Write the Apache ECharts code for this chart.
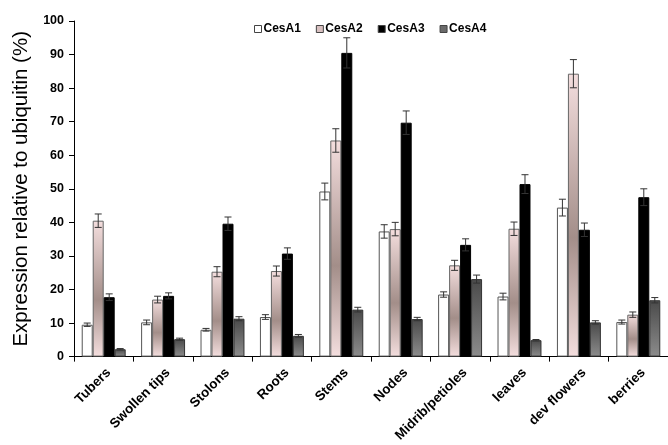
<!DOCTYPE html>
<html><head><meta charset="utf-8">
<script src="https://cdn.jsdelivr.net/npm/echarts@6/dist/echarts.min.js"></script>
<style>html,body{margin:0;padding:0;background:#fff}#c{width:668px;height:445px}</style>
</head><body><div id="c"></div>
<script>
const categories = ['Tubers','Swollen tips','Stolons','Roots','Stems','Nodes','Midrib/petioles','leaves','dev flowers','berries'];
const seriesNames = ['CesA1','CesA2','CesA3','CesA4'];
const cesA1 = [9.5, 10.2, 8, 11.8, 49.2, 37.3, 18.5, 17.9, 44.4, 10.3];
const cesA2 = [40.5, 17, 25.3, 25.5, 64.4, 38, 27.2, 38.1, 84.3, 12.5];
const cesA3 = [17.7, 18.1, 39.6, 30.7, 90.5, 69.7, 33.3, 51.4, 37.8, 47.5];
const cesA4 = [2.2, 5.2, 11.3, 6.2, 14, 11.2, 23.1, 4.9, 10.2, 16.8];
const errA1 = [0.5, 0.7, 0.4, 0.7, 2.5, 2, 0.8, 1, 2.5, 0.6];
const errA2 = [2, 1, 1.5, 1.5, 3.5, 2, 1.5, 2, 4.2, 0.8];
const errA3 = [1, 0.9, 2, 1.7, 4.5, 3.5, 1.8, 2.8, 2, 2.5];
const errA4 = [0.2, 0.3, 0.6, 0.4, 0.7, 0.5, 1.2, 0.2, 0.5, 0.8];
const yTicks = [0,10,20,30,40,50,60,70,80,90,100];

const values = [cesA1, cesA2, cesA3, cesA4];
const errors = [errA1, errA2, errA3, errA4];
const catGap = 0.26;

const styles = [
  {color:'#ffffff', borderColor:'#555', borderWidth:1},
  {color:{type:'linear',x:0,y:0,x2:0,y2:1,colorStops:[{offset:0,color:'#f4dede'},{offset:0.58,color:'#a38e89'},{offset:1,color:'#f4dede'}]}, borderColor:'#666', borderWidth:1},
  {color:'#000000', borderColor:'#000', borderWidth:1},
  {color:{type:'linear',x:0,y:0,x2:0,y2:1,colorStops:[{offset:0,color:'#4a4a4a'},{offset:1,color:'#8c8c8c'}]}, borderColor:'#333', borderWidth:1}
];
const legendColors = ['#ffffff','#d8c0c0','#000000','#6a6a6a'];

const series = [];
values.forEach((v,i)=>{
  series.push({name:seriesNames[i], type:'bar', data:v, barGap:'0%', barCategoryGap:(catGap*100)+'%', itemStyle:styles[i]});
});
values.forEach((v,i)=>{
  series.push({
    type:'custom', name:seriesNames[i]+'_err', silent:true, z:10,
    data: v.map((val,j)=>[j, val, errors[i][j]]),
    encode:{x:0,y:1},
    renderItem:(params, api)=>{
      const x = api.value(0), val = api.value(1), e = api.value(2);
      const catW = api.size([1,0])[0];
      const bw = catW*(1-catGap)/4;
      const off = (i-1.5)*bw;
      const top = api.coord([x, val+e]);
      const bot = api.coord([x, val-e]);
      const cx = top[0]+off;
      const cap = 3.5;
      const st = {stroke:'#333', lineWidth:1};
      return {type:'group', children:[
        {type:'line', shape:{x1:cx,y1:top[1],x2:cx,y2:bot[1]}, style:st},
        {type:'line', shape:{x1:cx-cap,y1:top[1],x2:cx+cap,y2:top[1]}, style:st},
        {type:'line', shape:{x1:cx-cap,y1:bot[1],x2:cx+cap,y2:bot[1]}, style:st}
      ]};
    }
  });
});

const chart = echarts.init(document.getElementById('c'));
chart.setOption({
  animation:false,
  backgroundColor:'#fff',
  legend:{
    data: seriesNames.map((n,i)=>({name:n, itemStyle:{color:legendColors[i], borderColor:'#444', borderWidth:1}})),
    top:18, left:249, itemWidth:7, itemHeight:7, itemGap:15,
    icon:'rect',
    textStyle:{fontFamily:'Liberation Sans', fontWeight:'bold', fontSize:12, color:'#000', padding:[0,0,0,-3]}
  },
  grid:{left:74, right:0, top:21, bottom:88, containLabel:false},
  xAxis:{
    type:'category', data:categories,
    axisLine:{lineStyle:{color:'#000', width:1}},
    axisTick:{show:true, length:5, lineStyle:{color:'#000'}},
    axisLabel:{rotate:45, interval:0, fontFamily:'Liberation Sans', fontWeight:'bold', fontSize:13.5, color:'#000', margin:9, verticalAlign:'top'}
  },
  yAxis:{
    type:'value', min:0, max:100, interval:10,
    name:'Expression relative to ubiquitin (%)', nameLocation:'middle', nameGap:42,
    nameTextStyle:{fontFamily:'Liberation Sans', fontSize:20.5, color:'#000'},
    axisLine:{show:true, lineStyle:{color:'#000', width:1}},
    axisTick:{show:true, inside:false, length:5, lineStyle:{color:'#000'}},
    axisLabel:{fontFamily:'Liberation Sans', fontWeight:'bold', fontSize:12.5, color:'#000', margin:10,
      formatter:(v)=> yTicks.includes(v) ? String(v) : ''},
    splitLine:{show:false}
  },
  series: series
});
</script></body></html>
